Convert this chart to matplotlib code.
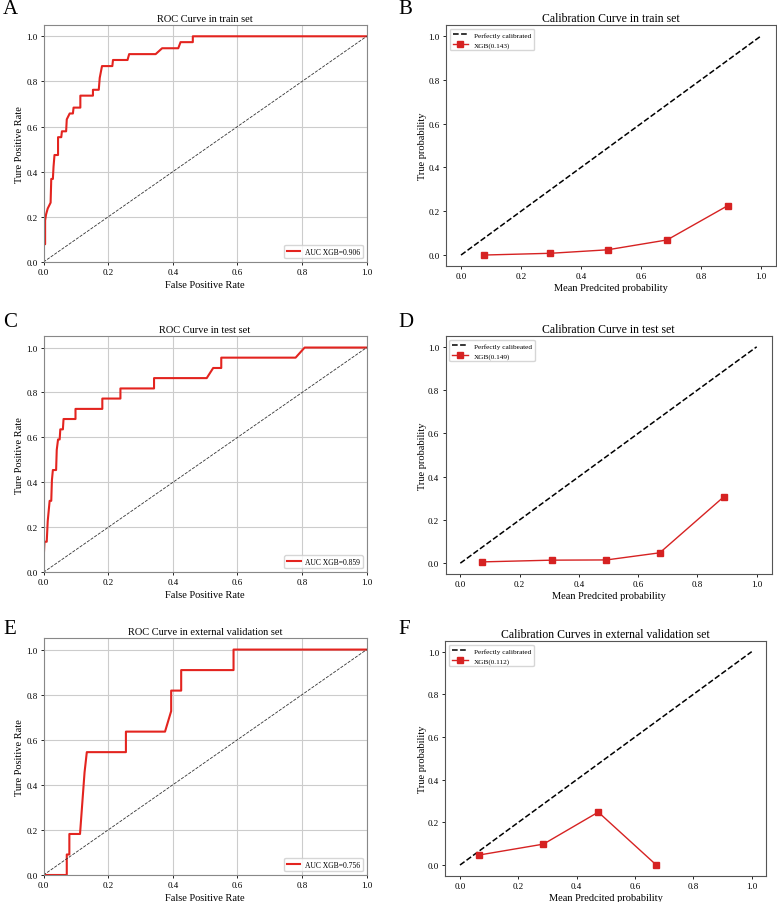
import matplotlib
matplotlib.use("Agg")
import matplotlib.pyplot as plt

plt.rcParams['font.family'] = ['Liberation Serif', 'DejaVu Serif']

# ----------------- DATOS -----------------
# ROC train
fpr_train = [0.000, 0.000, 0.002, 0.005, 0.005, 0.008, 0.013, 0.022, 0.024, 0.029,
             0.031, 0.034, 0.045, 0.045, 0.055, 0.057, 0.070, 0.072, 0.081, 0.091,
             0.093, 0.114, 0.114, 0.153, 0.153, 0.171, 0.174, 0.181, 0.213, 0.215,
             0.260, 0.265, 0.347, 0.367, 0.417, 0.424, 0.462, 0.462, 1.000]
tpr_train = [0.000, 0.053, 0.079, 0.079, 0.184, 0.211, 0.237, 0.263, 0.368, 0.368,
             0.421, 0.474, 0.474, 0.553, 0.553, 0.579, 0.579, 0.632, 0.658, 0.658,
             0.684, 0.684, 0.737, 0.737, 0.763, 0.763, 0.816, 0.868, 0.868, 0.895,
             0.895, 0.921, 0.921, 0.947, 0.947, 0.974, 0.974, 1.000, 1.000]

# ROC test
fpr_test = [0.000, 0.000, 0.003, 0.010, 0.013, 0.019, 0.024, 0.026, 0.029, 0.039,
            0.041, 0.045, 0.050, 0.052, 0.060, 0.062, 0.099, 0.099, 0.182, 0.182,
            0.238, 0.238, 0.342, 0.342, 0.505, 0.525, 0.550, 0.550, 0.780, 0.808, 1.000]
tpr_test = [0.000, 0.045, 0.136, 0.136, 0.227, 0.318, 0.318, 0.409, 0.455, 0.455,
            0.545, 0.591, 0.591, 0.636, 0.636, 0.682, 0.682, 0.727, 0.727, 0.773,
            0.773, 0.818, 0.818, 0.864, 0.864, 0.909, 0.909, 0.955, 0.955, 1.000, 1.000]

# ROC external validation
fpr_ext = [0.000, 0.072, 0.072, 0.080, 0.080, 0.113, 0.127, 0.134, 0.255, 0.255,
           0.376, 0.395, 0.395, 0.426, 0.426, 0.588, 0.588, 1.000]
tpr_ext = [0.000, 0.000, 0.091, 0.091, 0.182, 0.182, 0.455, 0.545, 0.545, 0.636,
           0.636, 0.727, 0.818, 0.818, 0.909, 0.909, 1.000, 1.000]

auc_labels = ["AUC XGB=0.906", "AUC XGB=0.859", "AUC XGB=0.756"]
roc_titles = ["ROC Curve in train set", "ROC Curve in test set",
              "ROC Curve in external validation set"]

# Calibration
cal_pred_train = [0.076, 0.298, 0.489, 0.687, 0.890]
cal_true_train = [0.000, 0.008, 0.024, 0.069, 0.226]
cal_pred_test = [0.074, 0.310, 0.493, 0.673, 0.890]
cal_true_test = [0.006, 0.014, 0.015, 0.048, 0.308]
cal_pred_ext = [0.066, 0.286, 0.474, 0.673]
cal_true_ext = [0.047, 0.098, 0.248, 0.000]

cal_labels = ["XGB(0.143)", "XGB(0.149)", "XGB(0.112)"]
diag_labels = ["Perfectly calibrated", "Perfectly calibeated", "Perfectly calibrated"]
cal_titles = ["Calibration Curve in train set", "Calibration Curve in test set",
              "Calibration Curves in external validation set"]

# ----------------- FIGURA -----------------
W, H = 777, 903
fig = plt.figure(figsize=(W / 100, H / 100), dpi=100)


def ejes(left, top, right, bottom):
    return fig.add_axes([left / W, 1 - bottom / H, (right - left) / W, (bottom - top) / H])


roc_boxes = [(43.5, 26, 366.7, 263), (43.5, 337.3, 366.7, 573.3), (43.5, 639.3, 366.7, 876)]
cal_boxes = [(446, 26, 776, 267), (445.5, 337, 771.5, 575), (445.4, 642, 766.3, 876.7)]

rocs = [(fpr_train, tpr_train), (fpr_test, tpr_test), (fpr_ext, tpr_ext)]
cals = [(cal_pred_train, cal_true_train), (cal_pred_test, cal_true_test),
        (cal_pred_ext, cal_true_ext)]

for i in range(3):
    ax = ejes(*roc_boxes[i])
    fpr, tpr = rocs[i]
    ax.plot(fpr, tpr, color="#e3241f", lw=1.5, label=auc_labels[i])
    ax.plot([0, 1], [0, 1], color="#333333", ls="--", lw=0.6)
    ax.set_xlim(0, 1)
    ax.set_ylim(0, 1.05)
    ax.set_xticks([0, 0.2, 0.4, 0.6, 0.8, 1.0])
    ax.set_yticks([0, 0.2, 0.4, 0.6, 0.8, 1.0])
    ax.grid(True, color="#cccccc", lw=0.8)
    ax.set_axisbelow(True)
    ax.tick_params(labelsize=6.5, length=2.5, width=0.6, pad=1.5)
    ax.set_title(roc_titles[i], fontsize=7.5, pad=3)
    ax.set_xlabel("False Positive Rate", fontsize=7.5, labelpad=3)
    ax.set_ylabel("Ture Positive Rate", fontsize=7.5, labelpad=2)
    for s in ax.spines.values():
        s.set_color("#888888")
        s.set_linewidth(0.8)
    ax.legend(loc="lower right", fontsize=5.5, handlelength=1.8, borderpad=0.35,
              handletextpad=0.6)

    ax2 = ejes(*cal_boxes[i])
    x, y = cals[i]
    ax2.plot([0, 1], [0, 1], "k--", lw=1.1, label=diag_labels[i])
    ax2.plot(x, y, color="#d62222", marker="s", markersize=4, lw=1.0, label=cal_labels[i])
    ax2.set_xticks([0, 0.2, 0.4, 0.6, 0.8, 1.0])
    ax2.set_yticks([0, 0.2, 0.4, 0.6, 0.8, 1.0])
    ax2.tick_params(labelsize=6.5, length=2.5, width=0.6, pad=2)
    ax2.set_title(cal_titles[i], fontsize=8.5, pad=3)
    ax2.set_xlabel("Mean Predcited probability", fontsize=7.5, labelpad=2)
    ax2.set_ylabel("True probability", fontsize=7.5, labelpad=1)
    for s in ax2.spines.values():
        s.set_color("#555555")
        s.set_linewidth(0.8)
    ax2.legend(loc="upper left", fontsize=5.2, handlelength=2.2, borderpad=0.4,
               labelspacing=0.5)

letras = [("A", 3, 0), ("B", 398, 0), ("C", 3, 313), ("D", 398, 313),
          ("E", 3, 620), ("F", 398, 620)]
for letra, lx, ly in letras:
    fig.text(lx / W, 1 - ly / H, letra, fontsize=15, va="top", ha="left")

fig.savefig("out.png", dpi=100)
